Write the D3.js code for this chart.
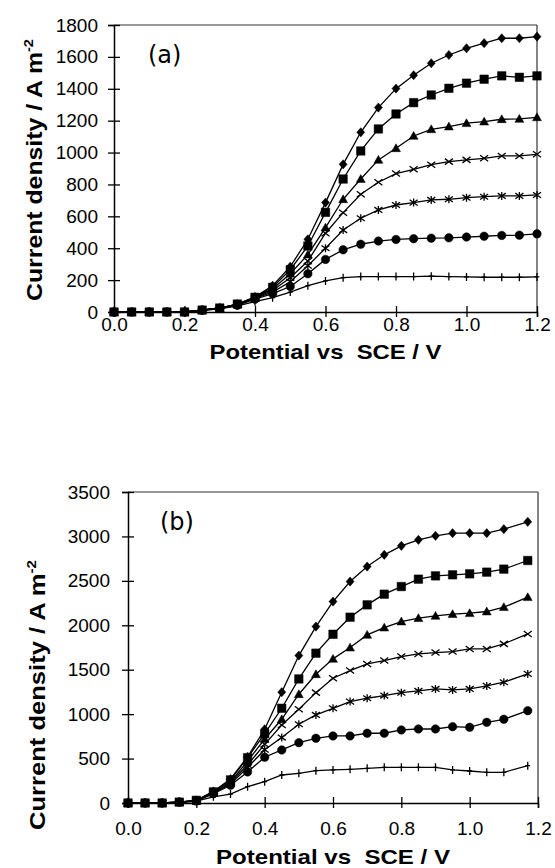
<!DOCTYPE html>
<html><head><meta charset="utf-8">
<script src="https://cdn.jsdelivr.net/npm/d3@7"></script>
<style>body{margin:0;background:#fff}</style></head><body>
<svg id="c" width="555" height="868"></svg>
<script>
// ---- Panel (a) data ----
const potentialA = [0,0.05,0.1,0.15,0.2,0.25,0.3,0.35,0.4,0.45,0.5,0.55,0.6,0.65,0.7,0.75,0.8,0.85,0.9,0.95,1.0,1.05,1.1,1.15,1.2];
const diamondA  = [0,0,0,0,0,12,25,50,95,165,284,456,686,926,1127,1282,1401,1485,1560,1612,1654,1686,1717,1717,1727];
const squareA   = [0,0,0,0,0,12,25,50,92,155,265,414,625,834,1010,1148,1242,1313,1361,1403,1435,1460,1481,1472,1481];
const triangleA = [0,0,0,0,0,12,25,48,90,145,240,360,529,707,834,954,1027,1104,1146,1163,1184,1194,1209,1211,1221];
const crossA    = [0,0,0,0,0,12,25,47,88,135,215,320,494,623,738,814,868,895,924,943,954,964,979,979,989];
const asteriskA = [0,0,0,0,0,12,24,45,85,125,190,290,400,514,588,640,671,686,703,707,717,723,728,728,734];
const circleA   = [0,0,0,0,0,11,22,42,80,115,160,240,330,390,425,445,455,460,463,465,470,475,480,482,490];
const plusA     = [0,0,0,0,0,10,20,38,65,90,125,165,195,215,222,222,222,222,225,222,220,218,218,218,220];
const yTicksA = [0,200,400,600,800,1000,1200,1400,1600,1800];

// ---- Panel (b) data ----
const potentialB = [0,0.05,0.1,0.15,0.2,0.25,0.3,0.35,0.4,0.45,0.5,0.55,0.6,0.65,0.7,0.75,0.8,0.85,0.9,0.95,1.0,1.05,1.1,1.17];
const diamondB  = [0,0,0,10,30,130,270,520,830,1247,1659,1985,2267,2492,2661,2793,2894,2962,3007,3037,3037,3037,3082,3164];
const squareB   = [0,0,0,10,30,125,260,510,780,1066,1396,1686,1899,2091,2230,2350,2436,2519,2556,2568,2579,2598,2632,2729];
const triangleB = [0,0,0,10,28,120,240,470,720,942,1224,1449,1622,1749,1892,1974,2042,2080,2106,2125,2136,2155,2204,2316];
const crossB    = [0,0,0,10,26,115,230,430,660,878,1055,1242,1404,1490,1565,1603,1648,1678,1693,1704,1734,1734,1791,1903];
const asteriskB = [0,0,0,10,25,110,215,400,600,736,886,991,1066,1141,1179,1209,1242,1261,1284,1273,1284,1318,1359,1453];
const circleB   = [0,0,0,10,22,105,200,350,515,597,679,728,755,755,785,785,822,833,833,859,852,908,942,1039];
const plusB     = [0,0,0,5,20,70,101,184,240,315,334,364,372,379,390,402,402,402,402,372,360,345,345,420];
const yTicksB = [0,500,1000,1500,2000,2500,3000,3500];

const xTicks = [0,0.2,0.4,0.6,0.8,1.0,1.2];

const svg = d3.select("#c");
const FONT = "'Liberation Sans', Arial, sans-serif";

function markerPath(type, s) {
  const h = s/2;
  switch(type) {
    case "diamond": return `M0,${-h*1.15}L${h},0L0,${h*1.15}L${-h},0Z`;
    case "square": return `M${-h},${-h}H${h}V${h}H${-h}Z`;
    case "triangle": return `M0,${-h*1.05}L${h*1.05},${h*0.8}L${-h*1.05},${h*0.8}Z`;
    case "circle": return d3.arc()({innerRadius:0,outerRadius:h,startAngle:0,endAngle:2*Math.PI});
    case "cross": return `M${-h},${-h*0.75}L${h},${h*0.75}M${-h},${h*0.75}L${h},${-h*0.75}`;
    case "asterisk": return `M${-h},${-h*0.7}L${h},${h*0.7}M${-h},${h*0.7}L${h},${-h*0.7}M0,${-h}V${h}`;
    case "plus": return `M0,${-h}V${h}M${-h*0.6},0H${h*0.6}`;
  }
}

function drawPanel(cfg) {
  const x = d3.scaleLinear().domain([0,1.2]).range([cfg.left,cfg.right]);
  const y = d3.scaleLinear().domain([0,cfg.ymax]).range([cfg.bottom,cfg.top]);
  const g = svg.append("g");

  g.append("line").attr("x1",cfg.left).attr("x2",cfg.right).attr("y1",cfg.top).attr("y2",cfg.top)
    .attr("stroke","#333").attr("stroke-width",1.2);
  g.append("line").attr("x1",cfg.right).attr("x2",cfg.right).attr("y1",cfg.top).attr("y2",cfg.bottom)
    .attr("stroke","#333").attr("stroke-width",1.2);

  const ya = g.append("g").attr("transform",`translate(${cfg.left},0)`)
    .call(d3.axisLeft(y).tickValues(cfg.yticks).tickFormat(d3.format("d")).tickSize(6).tickPadding(cfg.ypad));
  ya.select(".domain").attr("stroke","#000").attr("stroke-width",1.5);
  ya.selectAll(".tick line").attr("x1",6).attr("x2",-6).attr("stroke-width",1.3);
  ya.selectAll(".tick text").attr("font-family",FONT).attr("font-size",19).attr("fill","#000");

  const xa = g.append("g").attr("transform",`translate(0,${cfg.bottom})`)
    .call(d3.axisBottom(x).tickValues(xTicks).tickFormat(d3.format(".1f")).tickSize(5).tickPadding(cfg.xpad));
  xa.select(".domain").attr("stroke","#000").attr("stroke-width",1.5);
  xa.selectAll(".tick line").attr("y1",-6).attr("y2",5).attr("stroke-width",1.3);
  xa.selectAll(".tick text").attr("font-family",FONT).attr("font-size",19).attr("fill","#000");

  const line = d3.line().x(d=>x(d[0])).y(d=>y(d[1]));
  cfg.series.forEach(s => {
    const pts = cfg.pot.map((p,i)=>[p,s.values[i]]);
    g.append("path").attr("d",line(pts)).attr("fill","none").attr("stroke","#000").attr("stroke-width",1.3);
    const filled = ["diamond","square","triangle","circle"].includes(s.type);
    g.selectAll(null).data(pts).enter().append("path")
      .attr("transform",d=>`translate(${x(d[0])},${y(d[1])})`)
      .attr("d",markerPath(s.type,s.size))
      .attr("fill",filled?"#000":"none")
      .attr("stroke","#000").attr("stroke-width",filled?0.5:1.3);
  });

  g.append("text").attr("x",(cfg.left+cfg.right)/2).attr("y",cfg.xTitleY)
    .attr("text-anchor","middle").attr("font-family",FONT).attr("font-weight","bold")
    .attr("font-size",21).attr("textLength",cfg.xTitleLen).attr("lengthAdjust","spacingAndGlyphs")
    .attr("xml:space","preserve")
    .text("Potential vs  SCE / V");

  const yt = g.append("text").attr("transform",`translate(${cfg.yTitleX},${cfg.yTitleCY}) rotate(-90)`)
    .attr("text-anchor","middle").attr("font-family",FONT).attr("font-weight","bold").attr("font-size",22)
    .attr("textLength",cfg.yTitleLen).attr("lengthAdjust","spacingAndGlyphs");
  yt.append("tspan").text("Current density / A m");
  yt.append("tspan").attr("dy",-9).attr("font-size",13).text("-2");

  g.append("text").attr("x",cfg.labelX).attr("y",cfg.labelY)
    .attr("font-family","'DejaVu Sans', sans-serif").attr("font-size",24).attr("fill","#000")
    .text(cfg.label);
}

drawPanel({
  left:114,right:537,top:25,bottom:312,ymax:1800,yticks:yTicksA,ypad:10,xpad:1,
  pot:potentialA,label:"(a)",labelX:148,labelY:63,
  xTitleY:359,xTitleLen:232,yTitleX:42,yTitleCY:170,yTitleLen:262,
  series:[
    {type:"plus",values:plusA,size:8},
    {type:"circle",values:circleA,size:8.5},
    {type:"asterisk",values:asteriskA,size:8},
    {type:"cross",values:crossA,size:8},
    {type:"triangle",values:triangleA,size:8.5},
    {type:"square",values:squareA,size:8.5},
    {type:"diamond",values:diamondA,size:8}
  ]
});

drawPanel({
  left:128,right:538,top:492,bottom:803,ymax:3500,yticks:yTicksB,ypad:12,xpad:14,
  pot:potentialB,label:"(b)",labelX:160,labelY:530,
  xTitleY:864,xTitleLen:234,yTitleX:45,yTitleCY:695,yTitleLen:270,
  series:[
    {type:"plus",values:plusB,size:8},
    {type:"circle",values:circleB,size:8.5},
    {type:"asterisk",values:asteriskB,size:8},
    {type:"cross",values:crossB,size:8},
    {type:"triangle",values:triangleB,size:8.5},
    {type:"square",values:squareB,size:8.5},
    {type:"diamond",values:diamondB,size:8}
  ]
});
</script>
</body></html>
